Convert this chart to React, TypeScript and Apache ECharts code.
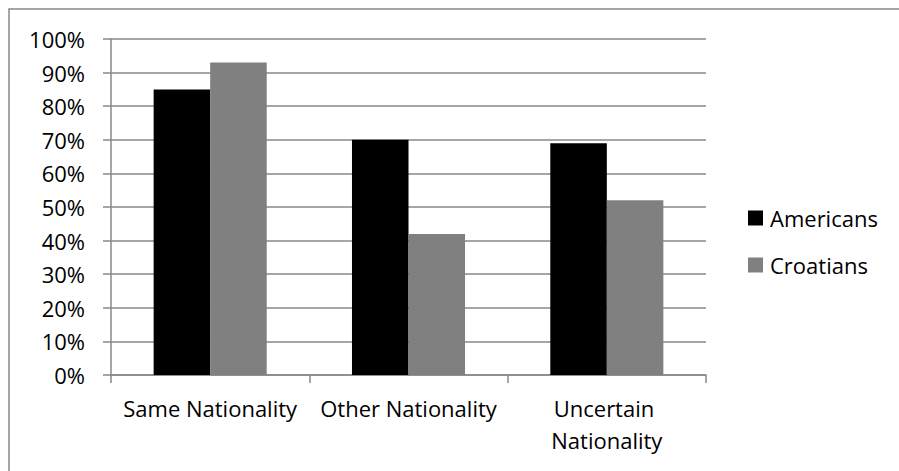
import React, { useEffect, useRef } from "react";
import * as echarts from "echarts";

const categories = ["Same Nationality", "Other Nationality", "Uncertain Nationality"];
const americans = [85, 70, 69];
const croatians = [93, 42, 52];
const yTicks = [0, 10, 20, 30, 40, 50, 60, 70, 80, 90, 100];

const FONT = "'Open Sans', sans-serif";
const GRID_GRAY = "#888888";
const FS = 22;

export default function App() {
  const ref = useRef<HTMLDivElement>(null);

  useEffect(() => {
    if (!ref.current) return;
    const chart = echarts.init(ref.current, null, { renderer: "svg" });
    chart.setOption({
      animation: false,
      backgroundColor: "#ffffff",
      textStyle: { fontFamily: FONT },
      graphic: [
        {
          type: "rect",
          shape: { x: 9, y: 9, width: 1000, height: 1000 },
          style: { fill: "none", stroke: GRID_GRAY, lineWidth: 1.5 },
          silent: true,
        },
      ],
      grid: { left: 111, top: 39, width: 595, height: 336, containLabel: false },
      legend: {
        orient: "vertical",
        left: 748,
        top: 207,
        padding: 0,
        itemWidth: 15,
        itemHeight: 15,
        itemGap: 25,
        icon: "rect",
        textStyle: { fontFamily: FONT, fontSize: FS, color: "#000", padding: [0, 0, 0, 2] },
        data: ["Americans", "Croatians"],
      },
      xAxis: {
        type: "category",
        data: categories,
        axisLine: { lineStyle: { color: GRID_GRAY, width: 1.5 } },
        axisTick: { show: true, length: 8, alignWithLabel: false, lineStyle: { color: GRID_GRAY, width: 1.5 } },
        axisLabel: {
          color: "#000",
          fontFamily: FONT,
          fontSize: FS,
          margin: 17,
          lineHeight: 32,
          width: 192,
          overflow: "break",
          interval: 0,
        },
      },
      yAxis: {
        type: "value",
        min: 0,
        max: 100,
        interval: 10,
        axisLine: { show: true, lineStyle: { color: GRID_GRAY, width: 1.5 } },
        axisTick: { show: true, length: 8, lineStyle: { color: GRID_GRAY, width: 1.5 } },
        splitLine: { show: true, lineStyle: { color: GRID_GRAY, width: 1.5 } },
        axisLabel: {
          color: "#000",
          fontFamily: FONT,
          fontSize: FS,
          margin: 26,
          formatter: (v: number) => (yTicks.includes(v) ? `${v}%` : ""),
        },
      },
      series: [
        {
          name: "Americans",
          type: "bar",
          data: americans,
          itemStyle: { color: "#000000" },
          barGap: "0%",
          barCategoryGap: "43%",
        },
        {
          name: "Croatians",
          type: "bar",
          data: croatians,
          itemStyle: { color: "#808080" },
          barGap: "0%",
          barCategoryGap: "43%",
        },
      ],
    });
    return () => chart.dispose();
  }, []);

  return (
    <div
      ref={ref}
      style={{ position: "absolute", left: 0, top: 0, width: 899, height: 471 }}
    />
  );
}
